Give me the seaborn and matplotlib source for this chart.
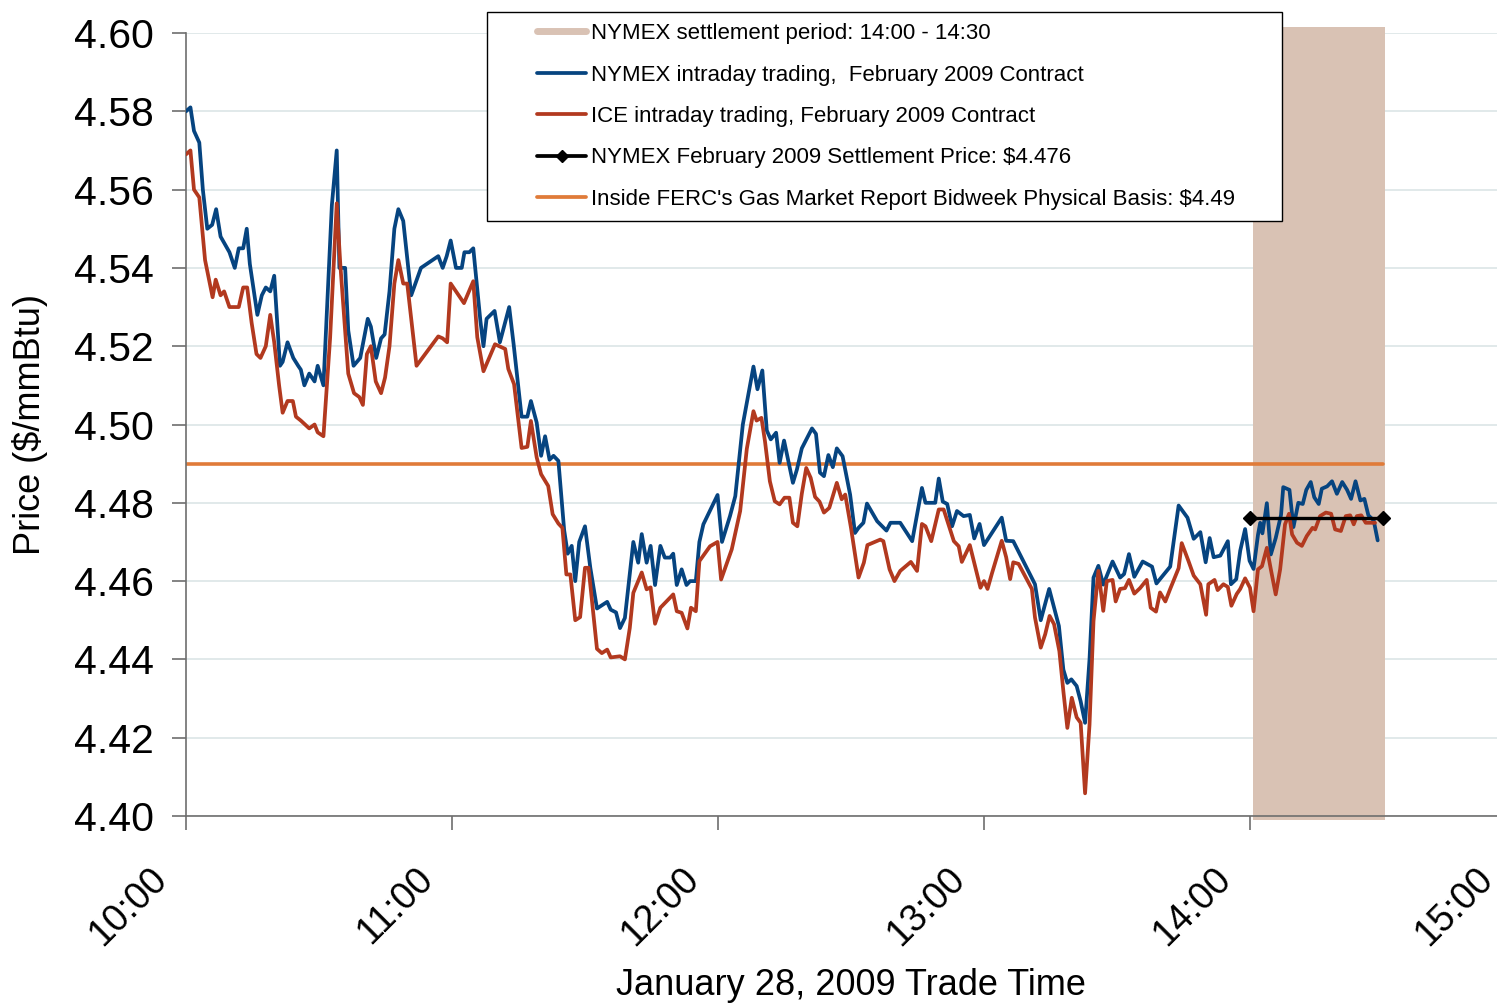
import numpy as np
import pandas as pd
import matplotlib
matplotlib.use("Agg")
import matplotlib.pyplot as plt
import seaborn as sns
from matplotlib.lines import Line2D
from matplotlib.legend_handler import HandlerLine2D
from matplotlib.transforms import ScaledTranslation

# -----------------------------
# Data (minutes after 10:00, $/mmBtu)
# -----------------------------

nymex_min = [
    0, 1.0, 1.8, 3.0, 3.8, 4.8, 5.9, 6.8, 7.8, 9.8, 11.0, 11.9, 12.9, 13.7, 14.4,
    16.1, 17.1, 18.0, 19.0, 19.9, 21.2, 21.8, 22.9, 24.2, 25.3, 25.9, 26.7, 27.8,
    29.0, 29.7, 31.0, 32.9, 34.0, 34.6, 35.9, 36.6, 37.8, 39.3, 41.0, 41.7, 42.9,
    44.0, 44.8, 45.9, 47.0, 47.9, 49.0, 50.8, 53.0, 56.9, 57.9, 58.8, 59.7, 60.9,
    62.2, 62.8, 63.9, 64.8, 66.4, 67.1, 67.8, 69.6, 70.8, 72.9, 73.9, 75.7, 77.0,
    77.8, 79.1, 80.1, 81.0, 82.0, 82.9, 84.0, 85.3, 86.1, 87.0, 87.8, 88.7, 90.0,
    91.2, 92.7, 95.0, 95.8, 97.0, 97.9, 99.0, 100.9, 102.0, 102.8, 103.9, 104.8,
    105.8, 107.0, 108.0, 109.2, 109.9, 110.7, 111.8, 112.9, 113.7, 115.0, 115.8,
    116.7, 118.2, 119.9, 120.9, 122.7, 123.9, 125.6, 126.9, 128.0, 128.9, 130.0,
    131.0, 131.9, 133.1, 133.9, 134.9, 136.9, 137.8, 138.9, 141.2, 142.1, 143.0,
    143.9, 144.9, 145.9, 146.8, 148.1, 149.8, 150.9, 151.7, 152.8, 153.6, 155.9,
    158.0, 158.9, 161.1, 163.8, 166.0, 166.8, 169.0, 169.8, 170.7, 171.7, 172.8,
    173.9, 175.4, 176.8, 177.8, 179.0, 180.0, 184.0, 185.0, 186.6, 191.5, 192.8,
    194.7, 196.9, 197.9, 198.8, 199.7, 200.9, 201.8, 202.8, 203.8, 204.7, 205.8,
    206.9, 209.0, 210.7, 211.6, 212.7, 213.9, 215.8, 217.9, 218.9, 222.0, 223.9,
    225.9, 227.3, 228.8, 230.0, 230.9, 231.8, 233.3, 235.0, 235.7, 236.9, 237.8,
    238.9, 239.9, 240.8, 241.8, 242.3, 242.8, 243.8, 244.7, 245.8, 247.0, 247.5,
    248.9, 249.8, 250.9, 251.9, 252.7, 253.7, 254.5, 255.5, 256.2, 257.4, 258.5,
    259.6, 260.8, 261.9, 262.8, 263.8, 264.9, 265.8, 266.7, 267.9, 268.8,
]
nymex_px = [
    4.580, 4.581, 4.575, 4.572, 4.560, 4.550, 4.551, 4.555, 4.548, 4.544, 4.540,
    4.545, 4.545, 4.550, 4.541, 4.528, 4.533, 4.535, 4.534, 4.538, 4.515, 4.516,
    4.521, 4.517, 4.515, 4.514, 4.510, 4.513, 4.511, 4.515, 4.510, 4.556, 4.570,
    4.540, 4.540, 4.524, 4.515, 4.517, 4.527, 4.525, 4.517, 4.522, 4.523, 4.534,
    4.550, 4.555, 4.552, 4.533, 4.540, 4.543, 4.540, 4.543, 4.547, 4.540, 4.540,
    4.544, 4.544, 4.545, 4.5265, 4.520, 4.527, 4.529, 4.521, 4.530, 4.5205, 4.502,
    4.502, 4.506, 4.5005, 4.492, 4.497, 4.491, 4.492, 4.4907, 4.473, 4.467, 4.469,
    4.460, 4.470, 4.474, 4.4634, 4.453, 4.4547, 4.4527, 4.452, 4.448, 4.4506,
    4.470, 4.4647, 4.472, 4.4647, 4.469, 4.459, 4.469, 4.466, 4.466, 4.467, 4.459,
    4.463, 4.459, 4.460, 4.460, 4.470, 4.4745, 4.478, 4.482, 4.470, 4.4766, 4.4817,
    4.500, 4.508, 4.5148, 4.509, 4.5138, 4.4985, 4.4962, 4.4979, 4.4902, 4.4959,
    4.4851, 4.4885, 4.4939, 4.499, 4.4976, 4.4877, 4.4868, 4.4922, 4.4891, 4.4939,
    4.4919, 4.4821, 4.4723, 4.4736, 4.4749, 4.4798, 4.4753, 4.4729, 4.4749, 4.4749,
    4.4702, 4.4838, 4.480, 4.480, 4.4862, 4.4803, 4.4797, 4.474, 4.4779, 4.4766,
    4.4769, 4.4709, 4.4746, 4.4692, 4.4762, 4.4703, 4.4702, 4.4592, 4.450, 4.458,
    4.4485, 4.4374, 4.434, 4.4349, 4.4332, 4.4293, 4.4238, 4.440, 4.4609, 4.4639,
    4.4591, 4.465, 4.4609, 4.4618, 4.4669, 4.4611, 4.465, 4.4637, 4.4594, 4.4637,
    4.4793, 4.4762, 4.4708, 4.4725, 4.4648, 4.471, 4.4661, 4.4665, 4.4702, 4.4592,
    4.4605, 4.4678, 4.4733, 4.4652, 4.4631, 4.4718, 4.4749, 4.4722, 4.4799, 4.4668,
    4.471, 4.4769, 4.484, 4.4833, 4.4738, 4.480, 4.4797, 4.4833, 4.4853, 4.4814,
    4.4797, 4.4836, 4.4842, 4.4855, 4.4823, 4.4853, 4.4833, 4.481, 4.4855, 4.4806,
    4.481, 4.4768, 4.4755, 4.4704,
]

ice_min = [
    0, 1.0, 1.8, 3.0, 4.3, 6.0, 6.7, 7.8, 8.6, 9.8, 11.0, 11.9, 12.9, 13.8, 14.8,
    15.9, 16.8, 18.0, 19.0, 19.9, 21.0, 21.8, 22.9, 24.1, 24.8, 25.9, 27.8, 29.0,
    29.7, 31.0, 32.5, 34.0, 34.8, 35.9, 36.6, 37.9, 39.1, 39.9, 40.8, 41.7, 42.8,
    44.0, 44.9, 45.9, 47.0, 47.9, 49.0, 49.9, 50.9, 52.0, 56.9, 57.9, 58.9, 59.7,
    62.7, 64.8, 65.7, 67.1, 69.7, 72.0, 72.7, 74.0, 75.7, 77.0, 77.8, 79.1, 80.1,
    81.7, 82.7, 84.0, 84.9, 85.8, 86.7, 87.8, 88.9, 90.0, 90.8, 92.7, 93.8, 95.0,
    95.8, 97.9, 99.0, 100.1, 100.9, 102.8, 103.9, 104.8, 105.8, 107.0, 109.9,
    110.7, 111.8, 113.1, 113.9, 115.0, 115.8, 118.2, 119.9, 120.7, 123.1, 125.0,
    126.5, 128.0, 128.7, 129.8, 130.6, 131.7, 132.8, 133.9, 135.0, 136.1, 136.9,
    137.9, 138.9, 139.9, 140.9, 141.9, 142.9, 143.9, 145.1, 146.8, 147.9, 148.7,
    150.0, 151.7, 152.9, 153.7, 156.6, 157.3, 158.7, 159.8, 161.1, 163.5, 164.9,
    166.0, 166.8, 168.1, 169.8, 170.9, 173.2, 174.3, 175.0, 176.8, 179.2, 180.0,
    180.8, 181.8, 184.0, 185.0, 185.9, 186.6, 187.8, 190.8, 191.5, 192.8, 193.8,
    194.8, 195.8, 197.0, 197.9, 198.8, 199.8, 200.9, 201.8, 202.8, 203.8, 204.7,
    205.8, 206.9, 207.7, 209.0, 209.7, 210.7, 211.8, 212.7, 213.9, 215.2, 216.7,
    217.6, 218.8, 219.7, 220.9, 222.0, 223.9, 224.6, 226.1, 227.3, 228.8, 230.1,
    230.6, 232.0, 232.7, 234.0, 235.0, 235.8, 237.0, 237.8, 238.9, 240.0, 240.8,
    241.8, 242.7, 243.8, 244.7, 245.8, 246.8, 247.9, 248.8, 249.5, 250.6, 251.7,
    252.8, 254.1, 254.7, 255.8, 257.1, 258.3, 259.2, 260.5, 261.6, 262.6, 263.4,
    264.1, 265.1, 266.1, 268.2,
]
ice_px = [
    4.569, 4.570, 4.560, 4.558, 4.542, 4.5325, 4.537, 4.533, 4.534, 4.530, 4.530,
    4.530, 4.535, 4.535, 4.526, 4.518, 4.517, 4.520, 4.528, 4.521, 4.510, 4.503,
    4.506, 4.506, 4.502, 4.501, 4.499, 4.500, 4.498, 4.497, 4.522, 4.5565, 4.541,
    4.524, 4.513, 4.508, 4.507, 4.505, 4.518, 4.520, 4.511, 4.508, 4.512, 4.520,
    4.536, 4.542, 4.536, 4.536, 4.526, 4.515, 4.5225, 4.522, 4.521, 4.536, 4.531,
    4.5366, 4.5223, 4.5136, 4.5205, 4.5193, 4.5142, 4.5103, 4.494, 4.4943, 4.5009,
    4.4916, 4.4873, 4.4843, 4.4771, 4.4747, 4.4736, 4.4617, 4.4617, 4.450, 4.4508,
    4.4634, 4.4634, 4.4427, 4.4416, 4.4425, 4.4405, 4.4408, 4.440, 4.448, 4.457,
    4.4622, 4.4579, 4.4584, 4.4491, 4.4532, 4.4566, 4.4523, 4.4519, 4.4479, 4.4532,
    4.4523, 4.4651, 4.4689, 4.470, 4.4604, 4.4681, 4.4779, 4.4938, 4.5034, 4.501,
    4.5017, 4.4957, 4.4855, 4.4804, 4.4796, 4.4813, 4.4813, 4.4749, 4.474, 4.4823,
    4.4889, 4.4864, 4.4815, 4.4803, 4.4775, 4.4787, 4.4851, 4.4809, 4.4821, 4.4736,
    4.4609, 4.4647, 4.4692, 4.4706, 4.4702, 4.463, 4.460, 4.4626, 4.4649, 4.4626,
    4.4746, 4.474, 4.4702, 4.4783, 4.4783, 4.4702, 4.4689, 4.4649, 4.4692, 4.4583,
    4.460, 4.458, 4.462, 4.4703, 4.4661, 4.4605, 4.4648, 4.4644, 4.458, 4.4507,
    4.443, 4.4464, 4.4511, 4.449, 4.4421, 4.4319, 4.4225, 4.4302, 4.4252, 4.4238,
    4.4058, 4.4233, 4.4498, 4.4626, 4.4524, 4.460, 4.4603, 4.4548, 4.458, 4.4582,
    4.4603, 4.4568, 4.4582, 4.4603, 4.4532, 4.4522, 4.4571, 4.4548, 4.458, 4.4633,
    4.4697, 4.4652, 4.4614, 4.4592, 4.4514, 4.4592, 4.4603, 4.4577, 4.4592, 4.4585,
    4.4537, 4.4567, 4.458, 4.4607, 4.4583, 4.4523, 4.463, 4.4638, 4.4685, 4.463,
    4.4566, 4.463, 4.4745, 4.4772, 4.4719, 4.4698, 4.469, 4.4715, 4.4736, 4.4732,
    4.4766, 4.4775, 4.4772, 4.4732, 4.4728, 4.4766, 4.4768, 4.4745, 4.4766, 4.4768,
    4.4749, 4.4749,
]

settle_window = [240.7, 270.5]
settle_min = [240, 270]
settle_px = [4.476, 4.476]
basis_min = [0, 270]
basis_px = [4.49, 4.49]

tick_min = [0, 60, 120, 180, 240, 300]
tick_labels = ["10:00", "11:00", "12:00", "13:00", "14:00", "15:00"]

labels = [
    "NYMEX settlement period: 14:00 - 14:30",
    "NYMEX intraday trading,  February 2009 Contract",
    "ICE intraday trading, February 2009 Contract",
    "NYMEX February 2009 Settlement Price: $4.476",
    "Inside FERC's Gas Market Report Bidweek Physical Basis: $4.49",
]

nymex = pd.DataFrame({"minute": nymex_min, "price": nymex_px})
ice = pd.DataFrame({"minute": ice_min, "price": ice_px})

TAN = "#d9c2b4"
BLUE = "#064480"
RED = "#b2391f"
ORANGE = "#e07b39"

# -----------------------------
# Style
# -----------------------------

sns.set_style("white")
plt.rcParams["font.family"] = ["Liberation Sans", "DejaVu Sans"]
plt.rcParams["text.color"] = "black"
plt.rcParams["axes.labelcolor"] = "black"
plt.rcParams["xtick.color"] = "black"
plt.rcParams["ytick.color"] = "black"

fig = plt.figure(figsize=(14.97, 10.08), dpi=100)
ax = fig.add_axes([186 / 1497, 1 - 816 / 1008, 1330 / 1497, 783 / 1008])

ax.set_axisbelow(True)
ax.yaxis.grid(True, color="#dbe5e6", linewidth=1.2)
ax.xaxis.grid(False)

# settlement window shading
ax.axvspan(settle_window[0], settle_window[1], ymin=-0.005, ymax=1.008,
           color=TAN, clip_on=False, zorder=1, linewidth=0)

sns.lineplot(x=basis_min, y=basis_px, ax=ax, color=ORANGE, linewidth=2.6, zorder=2)
sns.lineplot(data=nymex, x="minute", y="price", ax=ax, color=BLUE, linewidth=2.7, zorder=3)
sns.lineplot(data=ice, x="minute", y="price", ax=ax, color=RED, linewidth=2.7, zorder=3)
ax.plot(settle_min, settle_px, color="black", linewidth=2.4, marker="D",
        markersize=7, zorder=4)

# -----------------------------
# Axes
# -----------------------------

ax.set_xlim(0, 300)
ax.set_ylim(4.40, 4.60)
ax.set_yticks(np.arange(4.40, 4.601, 0.02))
ax.set_yticklabels([f"{v:.2f}" for v in np.arange(4.40, 4.601, 0.02)], fontsize=29.5)
ax.set_xticks(tick_min)
ax.set_xticklabels(tick_labels, fontsize=27, rotation=45, ha="right")

ax.tick_params(axis="both", which="major", direction="out", length=10, width=1.2,
               color="#6e6e6e", labelcolor="black", left=True, bottom=True)
ax.tick_params(axis="y", pad=13)
ax.tick_params(axis="x", pad=22)

# nudge the rotated time labels left (after tick_params, which resets transforms)
xlabels = ax.get_xticklabels()
for i, lbl in enumerate(xlabels):
    dx = -0.16 if i == len(xlabels) - 1 else -0.12
    lbl.set_transform(lbl.get_transform() + ScaledTranslation(dx, 0, fig.dpi_scale_trans))

for side in ["top", "right"]:
    ax.spines[side].set_visible(False)
for side in ["left", "bottom"]:
    ax.spines[side].set_color("#6e6e6e")
    ax.spines[side].set_linewidth(1.2)

ax.set_xlabel("January 28, 2009 Trade Time", fontsize=26)
ax.set_ylabel("Price ($/mmBtu)", fontsize=26)
ax.xaxis.set_label_coords(0.5, -0.194)
ax.yaxis.set_label_coords(-0.104, 0.5)

# -----------------------------
# Legend
# -----------------------------

handles = [
    Line2D([], [], color=TAN, linewidth=5),
    Line2D([], [], color=BLUE, linewidth=2.7),
    Line2D([], [], color=RED, linewidth=2.7),
    Line2D([], [], color="black", linewidth=2.7, marker="D", markersize=6),
    Line2D([], [], color=ORANGE, linewidth=2.7),
]

leg = fig.legend(
    handles, labels,
    loc="upper left",
    bbox_to_anchor=(487 / 1497, 0, 795 / 1497, 1 - 12 / 1008),
    mode="expand",
    borderaxespad=0,
    borderpad=0.5,
    fontsize=16,
    handlelength=3.96,
    handletextpad=0.23,
    labelspacing=0.92,
    fancybox=False,
    framealpha=1,
    edgecolor="black",
    handler_map={Line2D: HandlerLine2D(xpad=1.75)},
)
leg.get_frame().set_linewidth(1.0)

fig.savefig("out.png", dpi=100)
